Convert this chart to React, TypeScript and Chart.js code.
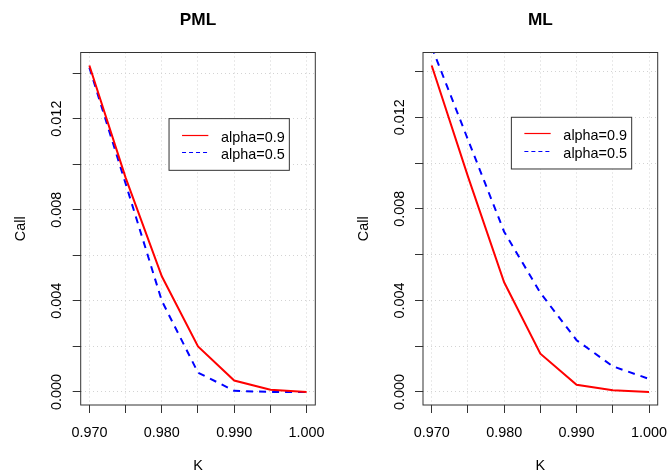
import React, { useEffect, useRef } from "react";
import { Chart, registerables } from "chart.js";

Chart.register(...registerables);

// ---- data ----
const strikes = [0.97, 0.975, 0.98, 0.985, 0.99, 0.995, 1.0];
const pmlAlpha09 = [0.01433, 0.00941, 0.00508, 0.002, 0.0005, 0.0001, 0.0];
const pmlAlpha05 = [0.01424, 0.00915, 0.004, 0.00085, 0.00005, 0.0, 0.0];
const mlAlpha09 = [0.01426, 0.00942, 0.00479, 0.00167, 0.00031, 0.00007, 0.0];
const mlAlpha05 = [0.01507, 0.01103, 0.007, 0.00433, 0.00226, 0.00112, 0.00057];
const seriesLabels = ["alpha=0.9", "alpha=0.5"];
const panelTitles = ["PML", "ML"];
const xTitle = "K";
const yTitle = "Call";
const xTickValues = [0.97, 0.975, 0.98, 0.985, 0.99, 0.995, 1.0];
const xLabelValues = [0.97, 0.98, 0.99, 1.0];
const xTickLabels = ["0.970", "0.980", "0.990", "1.000"];
const yTickValues = [0, 0.002, 0.004, 0.006, 0.008, 0.01, 0.012, 0.014];
const yLabelValues = [0, 0.004, 0.008, 0.012];
const yTickLabels = ["0.000", "0.004", "0.008", "0.012"];
const legendAnchor = [0.981, 0.012];

const FONT = '"Liberation Sans", Arial, Helvetica, sans-serif';
const AXIS_COLOR = "#333333";

const decorPlugin = {
  id: "rdecor",
  afterDatasetsDraw(chart: any, _args: any, opts: any) {
    const { ctx, chartArea: a, scales } = chart;
    const xs = scales.x;
    const ys = scales.y;
    ctx.save();
    // legend
    const lx = xs.getPixelForValue(legendAnchor[0]);
    const ly = ys.getPixelForValue(legendAnchor[1]);
    const lw = 120.3;
    const lh = 51.7;
    ctx.fillStyle = "#ffffff";
    ctx.fillRect(lx, ly, lw, lh);
    ctx.strokeStyle = AXIS_COLOR;
    ctx.lineWidth = 1;
    ctx.strokeRect(lx, ly, lw, lh);
    ctx.font = `14.4px ${FONT}`;
    chart.data.datasets.forEach((ds: any, i: number) => {
      const ry = Math.round(ly + 16.2 + i * 17.6) + 0.5;
      ctx.strokeStyle = ds.borderColor;
      ctx.lineWidth = 1.2;
      ctx.setLineDash(ds.borderDash && ds.borderDash.length ? [4, 3] : []);
      ctx.beginPath();
      ctx.moveTo(lx + 13, ry);
      ctx.lineTo(lx + 39.3, ry);
      ctx.stroke();
      ctx.setLineDash([]);
      ctx.fillStyle = "#000000";
      ctx.textAlign = "left";
      ctx.textBaseline = "alphabetic";
      ctx.fillText(ds.label, lx + 52, ry + 6.2);
    });
    // box
    ctx.strokeStyle = AXIS_COLOR;
    ctx.lineWidth = 1;
    ctx.strokeRect(a.left, a.top, a.right - a.left, a.bottom - a.top);
    // tick labels
    ctx.fillStyle = "#000000";
    ctx.font = `14.4px ${FONT}`;
    ctx.textAlign = "center";
    ctx.textBaseline = "alphabetic";
    xLabelValues.forEach((v, i) => {
      ctx.fillText(xTickLabels[i], xs.getPixelForValue(v), a.bottom + 31.7);
    });
    yLabelValues.forEach((v, i) => {
      ctx.save();
      ctx.translate(a.left - 19.3, ys.getPixelForValue(v));
      ctx.rotate(-Math.PI / 2);
      ctx.fillText(yTickLabels[i], 0, 0);
      ctx.restore();
    });
    // axis titles
    ctx.fillText(xTitle, (a.left + a.right) / 2, a.bottom + 65);
    ctx.save();
    ctx.translate(a.left - 55.4, (a.top + a.bottom) / 2);
    ctx.rotate(-Math.PI / 2);
    ctx.fillText(yTitle, 0, 0);
    ctx.restore();
    // main title
    ctx.font = `bold 17.28px ${FONT}`;
    ctx.fillText(opts.title, (a.left + a.right) / 2, 24.5);
    ctx.restore();
  },
};

type PanelProps = {
  title: string;
  red: number[];
  blue: number[];
  left: number;
  width: number;
  padLeft: number;
  padRight: number;
};

function Panel({ title, red, blue, left, width, padLeft, padRight }: PanelProps) {
  const ref = useRef<HTMLCanvasElement>(null);
  useEffect(() => {
    if (!ref.current) return;
    const maxRed = Math.max(...red);
    const xSpan = strikes[strikes.length - 1] - strikes[0];
    const gridOpts = {
      display: true,
      drawOnChartArea: true,
      drawTicks: true,
      tickLength: 8,
      color: "#d3d3d3",
      lineWidth: 1,
      tickColor: AXIS_COLOR,
      tickWidth: 1,
    };
    const chart = new Chart(ref.current, {
      type: "line",
      data: {
        datasets: [
          {
            label: seriesLabels[0],
            data: strikes.map((k, i) => ({ x: k, y: red[i] })),
            borderColor: "#ff0000",
            backgroundColor: "#ff0000",
            borderWidth: 2,
            pointRadius: 0,
            tension: 0,
            fill: false,
            clip: 0,
          },
          {
            label: seriesLabels[1],
            data: strikes.map((k, i) => ({ x: k, y: blue[i] })),
            borderColor: "#0000ff",
            backgroundColor: "#0000ff",
            borderWidth: 2,
            borderDash: [7, 6],
            pointRadius: 0,
            tension: 0,
            fill: false,
            clip: 0,
          },
        ],
      },
      options: {
        responsive: false,
        animation: false,
        devicePixelRatio: 1,
        events: [],
        layout: { padding: { left: padLeft, right: padRight, top: 52.5, bottom: 69 } },
        plugins: {
          legend: { display: false },
          title: { display: false },
          tooltip: { enabled: false },
          rdecor: { title },
        } as any,
        scales: {
          x: {
            type: "linear",
            min: strikes[0] - 0.04 * xSpan,
            max: strikes[strikes.length - 1] + 0.04 * xSpan,
            afterBuildTicks: (s: any) => {
              s.ticks = xTickValues.map((v) => ({ value: v }));
            },
            afterFit: (s: any) => {
              s.height = 0;
            },
            ticks: { display: false, autoSkip: false },
            grid: gridOpts,
            border: { display: false, dash: [1, 3] },
          },
          y: {
            type: "linear",
            min: -0.04 * maxRed,
            max: 1.04 * maxRed,
            afterBuildTicks: (s: any) => {
              s.ticks = yTickValues.map((v) => ({ value: v }));
            },
            afterFit: (s: any) => {
              s.width = 0;
            },
            ticks: { display: false, autoSkip: false },
            grid: gridOpts,
            border: { display: false, dash: [1, 3] },
          },
        } as any,
      },
      plugins: [decorPlugin],
    });
    return () => chart.destroy();
  }, []);
  return (
    <canvas
      ref={ref}
      width={width}
      height={474}
      style={{ position: "absolute", left, top: 0, width, height: 474 }}
    />
  );
}

export default function App() {
  return (
    <div
      style={{
        position: "absolute",
        left: 0,
        top: 0,
        width: 667,
        height: 474,
        background: "#ffffff",
        overflow: "hidden",
      }}
    >
      <Panel title={panelTitles[0]} red={pmlAlpha09} blue={pmlAlpha05} left={0} width={333} padLeft={80.7} padRight={17.7} />
      <Panel title={panelTitles[1]} red={mlAlpha09} blue={mlAlpha05} left={333} width={334} padLeft={90} padRight={9.3} />
    </div>
  );
}
